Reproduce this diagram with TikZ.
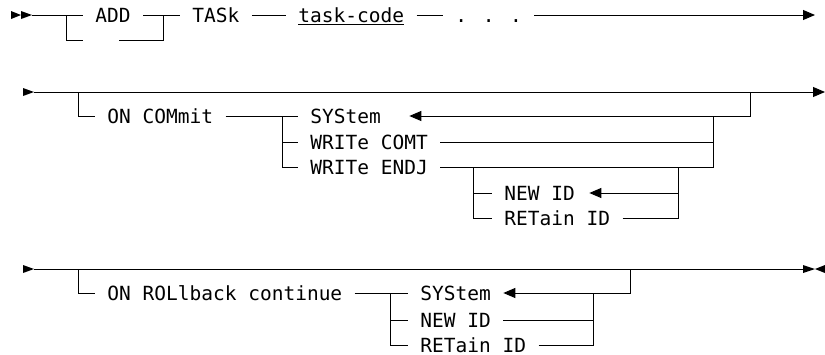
\documentclass[tikz,border=0pt]{standalone}
\usepackage{fontspec}
\usetikzlibrary{arrows.meta}
\newfontfamily\synfont{DejaVu Sans Mono}
\tikzset{
  rail/.style={line width=0.9pt},
  tip/.style={-{Triangle[length=12pt,width=10pt]}},
  kw/.style={anchor=west,inner xsep=12pt,inner ysep=0pt,text height=14.2pt,text depth=0pt,
    font=\synfont\fontsize{19.5}{20}\selectfont}
}
\begin{document}
\begin{tikzpicture}[x=1pt,y=-1pt,rail]
                \useasboundingbox (0,0) rectangle (825,354);
                % first line
                \fill (11,11) -- (21,15) -- (11,19) -- cycle;
                \fill (21,11) -- (32,15) -- (21,19) -- cycle;
                \coordinate (s1) at (32,15);
                \coordinate (j1a) at (66,15);
                \coordinate (j1b) at (163,15);
                \coordinate (b1l) at (83,40);
                \coordinate (b1r) at (119,40);
                \coordinate (e1) at (815,15);
                \node[kw] (add) at (83,15) {ADD};
                \node[kw] (tas) at (180,15) {TASk};
                \node[kw] (tcode) at (286,15) {\underline{task-code}};
                \node[kw] (dots) at (443,15) {. . .};
                \draw (s1) -- (add.west);
                \draw (add.east) -- (tas.west);
                \draw (tas.east) -- (tcode.west);
                \draw (tcode.east) -- (dots.west);
                \draw[tip] (dots.east) -- (e1);
                \draw (j1a) |- (b1l);
                \draw (b1r) -| (j1b);
                % second line
                \fill (23,88) -- (34,92) -- (23,96) -- cycle;
                \coordinate (s2) at (34,92);
                \coordinate (j2a) at (78,92);
                \coordinate (j2b) at (750,92);
                \coordinate (e2) at (825,92);
                \coordinate (j2c) at (282,116);
                \coordinate (j2d) at (713,116);
                \coordinate (j2e) at (473,167);
                \coordinate (j2f) at (678,167);
                \node[kw] (oncom) at (95,116) {ON COMmit};
                \node[kw] (sys2) at (298,116) {SYStem};
                \node[kw] (wcomt) at (298,142) {WRITe COMT};
                \node[kw] (wendj) at (298,167) {WRITe ENDJ};
                \node[kw] (newid) at (492,193) {NEW ID};
                \node[kw] (retid) at (492,218) {RETain ID};
                \draw[tip] (s2) -- (e2);
                \draw (j2a) |- (oncom.west);
                \draw (oncom.east) -- (sys2.west);
                \draw[tip] (j2b) |- ([xshift=16pt]sys2.east);
                \draw (j2c) |- (wcomt.west);
                \draw (j2c) |- (wendj.west);
                \draw (wcomt.east) -| (j2d);
                \draw (wendj.east) -| (j2d);
                \draw (j2e) |- (newid.west);
                \draw (j2e) |- (retid.west);
                \draw[tip] (j2f) |- ([xshift=2pt]newid.east);
                \draw (retid.east) -| (j2f);
                % third line
                \fill (23,265) -- (34,269) -- (23,273) -- cycle;
                \fill (803,265) -- (815,269) -- (803,273) -- cycle;
                \fill (825,265) -- (815,269) -- (825,273) -- cycle;
                \coordinate (s3) at (34,269);
                \coordinate (j3a) at (78,269);
                \coordinate (j3b) at (630,269);
                \coordinate (e3) at (803,269);
                \coordinate (j3c) at (390,293);
                \coordinate (j3d) at (593,293);
                \node[kw] (onrol) at (95,293) {ON ROLlback continue};
                \node[kw] (sys3) at (408,293) {SYStem};
                \node[kw] (nid3) at (408,320) {NEW ID};
                \node[kw] (rid3) at (408,345) {RETain ID};
                \draw (s3) -- (e3);
                \draw (j3a) |- (onrol.west);
                \draw (onrol.east) -- (sys3.west);
                \draw[tip] (j3b) |- (sys3.east);
                \draw (j3c) |- (nid3.west);
                \draw (j3c) |- (rid3.west);
                \draw (nid3.east) -| (j3d);
                \draw (rid3.east) -| (j3d);
            \end{tikzpicture}
\end{document}
